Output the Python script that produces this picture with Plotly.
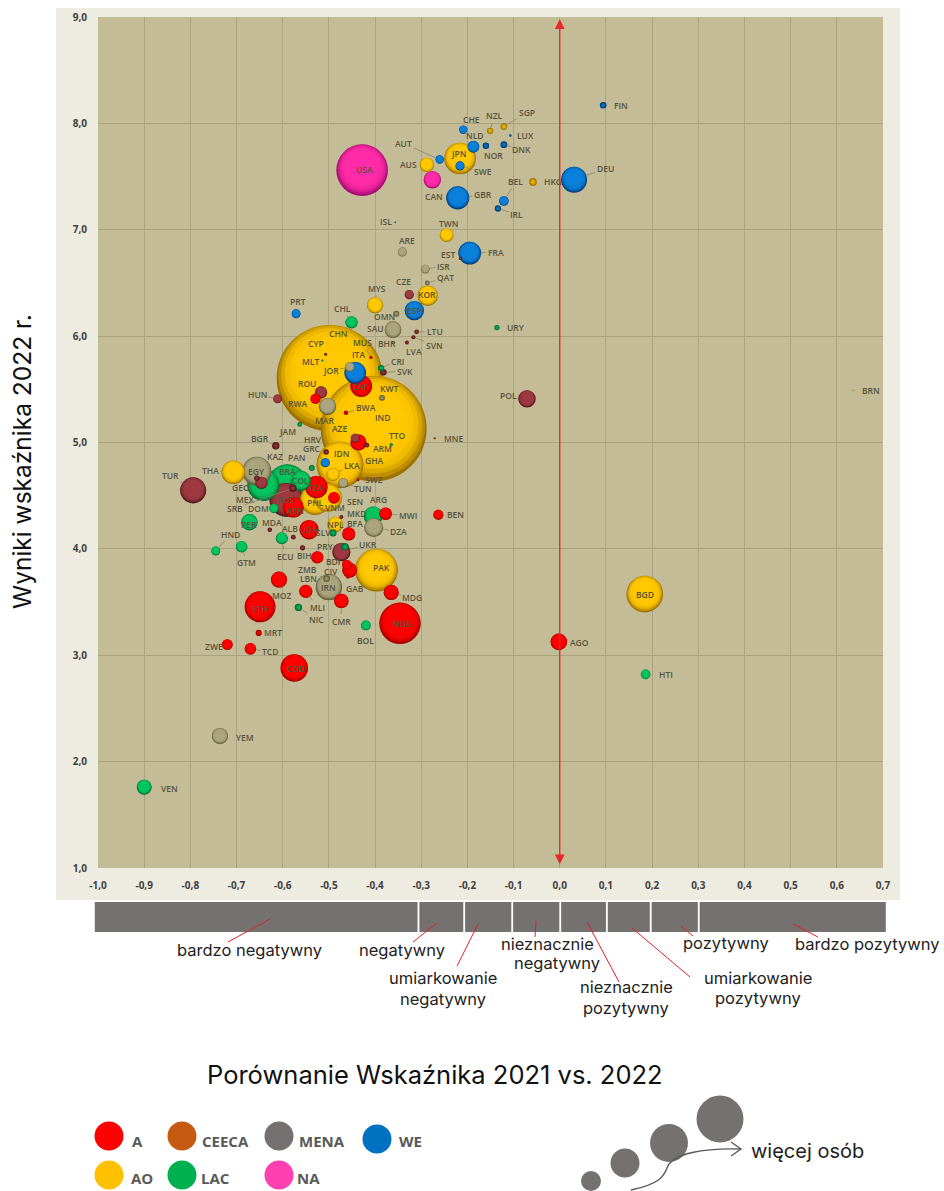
import plotly.graph_objects as go

WE_CODES = ["FIN","CHE","NLD","NOR","DNK","LUX","AUT","SWE","GBR","BEL","IRL","DEU","ISL","FRA","ESP","PRT","ITA","MLT","GRC"]
WE_X = [.094,-.209,-.187,-.16,-.121,-.107,-.26,-.216,-.221,-.121,-.134,.031,-.356,-.195,-.315,-.571,-.443,-.514,-.508]
WE_Y = [8.17,7.94,7.78,7.79,7.80,7.885,7.66,7.60,7.30,7.27,7.20,7.47,7.07,6.78,6.24,6.21,5.655,5.77,4.81]
WE_POP = [5.5,8.7,17.5,5.4,5.9,.8,9,10.4,67,11.6,5,84,.4,65,47,10,59,.5,10.5]

AO_CODES = ["JPN","NZL","SGP","AUS","HKG","TWN","KOR","MYS","CHN","IND","IDN","LKA","THA","PHL","VNM","NPL","PAK","BGD","BRN"]
AO_X = [-.216,-.151,-.121,-.288,-.058,-.245,-.286,-.40,-.498,-.403,-.476,-.491,-.707,-.53,-.502,-.486,-.397,.184,.636]
AO_Y = [7.67,7.93,7.97,7.61,7.45,6.95,6.38,6.29,5.605,5.13,4.79,4.70,4.72,4.46,4.48,4.23,3.80,3.575,5.49]
AO_POP = [125,5,5.6,26,7.5,24,52,33,1412,1400,275,22,70,113,98,30,230,168,.45]

A_CODES = ["ZAF","RWA","BWA","MUS","GHA","TZA","KEN","SWZ","SEN","MWI","BEN","UGA","BFA","ZMB","BDI","CIV","GAB","MOZ","MDG","MLI","CMR","ETH","NGA","MRT","ZWE","TCD","COD","AGO"]
A_X = [-.43,-.529,-.463,-.409,-.436,-.527,-.577,-.437,-.489,-.377,-.263,-.543,-.457,-.525,-.461,-.455,-.459,-.608,-.365,-.55,-.473,-.649,-.346,-.652,-.72,-.67,-.575,-.002]
A_Y = [5.53,5.41,5.28,5.80,5.0,4.58,4.39,4.65,4.48,4.33,4.32,4.18,4.14,3.92,3.85,3.80,3.74,3.71,3.59,3.60,3.51,3.455,3.30,3.21,3.10,3.06,2.88,3.125]
A_POP = [60,13,2.6,1.3,33,63,54,1.2,17,20,13,47,22,19,12,28,2.3,33,29,22,27,120,215,4.7,15,17,95,35]

LAC_CODES = ["CHL","URY","CRI","JAM","TTO","PAN","MEX","BRA","COL","DOM","ARG","SLV","PER","ECU","HND","GTM","PRY","NIC","BOL","HTI","VEN"]
LAC_X = [-.451,-.136,-.387,-.563,-.365,-.537,-.642,-.59,-.561,-.619,-.404,-.491,-.672,-.602,-.745,-.689,-.465,-.566,-.42,.186,-.90]
LAC_Y = [6.13,6.08,5.70,5.17,4.98,4.76,4.60,4.60,4.64,4.38,4.31,4.15,4.25,4.10,3.98,4.02,4.02,3.45,3.28,2.82,1.76]
LAC_POP = [19,3.4,5,2.8,1.4,4.4,128,214,51,11,45,6.3,34,18,10,17,6.7,6.9,12,11.5,28]

MENA_CODES = ["ARE","ISR","QAT","OMN","SAU","BHR","JOR","KWT","MAR","EGY","TUN","DZA","LBN","IRN","YEM"]
MENA_X = [-.341,-.291,-.287,-.354,-.361,-.36,-.455,-.385,-.503,-.656,-.469,-.403,-.505,-.5,-.736]
MENA_Y = [6.79,6.63,6.50,6.21,6.06,5.94,5.71,5.42,5.34,4.73,4.62,4.20,3.72,3.64,2.24]
MENA_POP = [10,9.5,2.9,4.5,35,1.5,11,4.3,37,105,12,45,5.5,87,33]

CEECA_CODES = ["EST","CZE","LTU","SVN","LVA","CYP","SVK","ROU","HUN","POL","MNE","AZE","ARM","BGR","HRV","KAZ","GEO","TUR","RUS","SRB","MKD","MDA","ALB","BIH","UKR"]
CEECA_X = [-.215,-.326,-.31,-.317,-.331,-.507,-.382,-.517,-.611,-.071,-.271,-.443,-.418,-.615,-.506,-.646,-.656,-.794,-.592,-.578,-.473,-.628,-.577,-.557,-.473]
CEECA_Y = [6.73,6.39,6.04,5.99,5.94,5.83,5.66,5.47,5.41,5.41,5.04,5.04,4.975,4.97,4.91,4.62,4.665,4.55,4.46,4.57,4.30,4.18,4.11,4.01,3.97]
CEECA_POP = [1.3,10.5,2.8,2.1,1.9,1.2,5.4,19,9.7,38,.6,10,3,6.8,3.9,19,3.7,85,144,6.9,2,2.6,2.8,3.3,42]

NA_CODES = ["USA","CAN"]
NA_X = [-.428,-.276]
NA_Y = [7.56,7.47]
NA_POP = [333,38]

X_TICKS = [-1,-.9,-.8,-.7,-.6,-.5,-.4,-.3,-.2,-.1,0,.1,.2,.3,.4,.5,.6,.7]
X_LABELS = ["-1,0","-0,9","-0,8","-0,7","-0,6","-0,5","-0,4","-0,3","-0,2","-0,1","0,0","0,1","0,2","0,3","0,4","0,5","0,6","0,7"]
Y_TICKS = [1,2,3,4,5,6,7,8,9]
Y_LABELS = ["1,0","2,0","3,0","4,0","5,0","6,0","7,0","8,0","9,0"]
STRIP_BOUNDS = [-1.009,-.306,-.207,-.103,.001,.102,.197,.301,.708]

# label offset from bubble centre, px (dx, dy downward)
OFF = {"FIN":(18,0),"CHE":(8,-10),"NZL":(4,-15),"SGP":(23,-14),"LUX":(15,0),"NLD":(2,-11),"NOR":(8,10),"DNK":(18,5),"AUT":(-36,-16),
"JPN":(-2,-5),"SWE":(23,6),"AUS":(-18,0),"USA":(2,-1),"CAN":(2,17),"GBR":(25,-3),"BEL":(12,-20),"IRL":(19,6),"HKG":(20,0),"DEU":(31,-11),
"ISL":(-9,-1),"TWN":(2,-12),"ARE":(5,-12),"EST":(-12,-4),"FRA":(26,-1),"ISR":(18,-3),"QAT":(18,-5),"CZE":(-6,-13),"KOR":(-1,-1),"MYS":(2,-17),
"ESP":(0,0),"PRT":(2,-12),"CHL":(-9,-14),"OMN":(-12,3),"SAU":(-18,-1),"LTU":(18,0),"SVN":(21,8),"LVA":(7,9),"URY":(19,0),"BHR":(-7,1),"MUS":(-8,-15),
"CYP":(-10,-11),"MLT":(-12,1),"CHN":(8,-45),"ITA":(3,-18),"JOR":(-19,4),"CRI":(16,-7),"SVK":(22,-1),"ZAF":(0,0),"KWT":(7,-9),"ROU":(-14,-9),
"RWA":(-18,5),"HUN":(-20,-4),"MAR":(-3,14),"BWA":(20,-5),"IND":(9,-11),"AZE":(-15,-10),"JAM":(-12,7),"MNE":(19,0),"TTO":(6,-9),"ARM":(16,3),
"GHA":(16,18),"BGR":(-16,-7),"HRV":(-13,-13),"GRC":(-13,-14),"IDN":(2,-11),"LKA":(19,-9),"KAZ":(14,-26),"PAN":(-15,-11),"THA":(-23,-2),"EGY":(0,0),
"TUR":(-23,-15),"GEO":(-16,9),"BRA":(0,-14),"COL":(0,0),"TZA":(0,0),"RUS":(0,0),"KEN":(2,3),"MEX":(-18,14),"SRB":(-58,20),"DOM":(-15,0),
"PHL":(0,3),"VNM":(7,10),"SEN":(21,4),"TUN":(20,6),"SWZ":(16,0),"ARG":(5,-16),"MWI":(22,2),"BEN":(17,0),"DZA":(25,4),"MKD":(16,-3),
"BFA":(6,-10),"NPL":(0,0),"SLV":(-10,0),"UGA":(0,0),"ALB":(-3,-9),"MDA":(2,-7),"PER":(0,2),"ECU":(3,18),"HND":(15,-17),"GTM":(5,16),
"BIH":(2,8),"PRY":(-20,0),"UKR":(27,-8),"BDI":(-14,-3),"ZMB":(-10,12),"CIV":(-19,1),"LBN":(-18,0),"IRN":(0,0),"GAB":(7,12),"PAK":(5,-3),
"MDG":(21,5),"MOZ":(3,16),"MLI":(12,16),"NIC":(18,12),"ETH":(0,2),"CMR":(0,20),"NGA":(3,0),"BOL":(0,15),"MRT":(14,0),"ZWE":(-13,2),
"TCD":(20,3),"COD":(2,0),"AGO":(21,1),"BGD":(0,0),"HTI":(20,0),"YEM":(25,1),"VEN":(25,1),"BRN":(18,0),"POL":(-18,-3)}
LEADERS = {"NZL","SGP","DNK","AUT","SWE","GBR","BEL","IRL","DEU","ARE","FRA","ISR","QAT","MYS","CHL","LTU","SVN","LVA","MUS","JOR","CRI","SVK",
"HUN","BWA","BGR","GRC","LKA","THA","TUR","MEX","SRB","TUN","MWI","DZA","ECU","HND","GTM","UKR","MDG","MOZ","MLI","NIC","CMR","TCD"}

REGIONS = {
 "A":(A_CODES,A_X,A_Y,A_POP,"#A00000","#FF0000"),
 "AO":(AO_CODES,AO_X,AO_Y,AO_POP,"#9A6E00","#FFC800"),
 "LAC":(LAC_CODES,LAC_X,LAC_Y,LAC_POP,"#00642F","#00C45E"),
 "MENA":(MENA_CODES,MENA_X,MENA_Y,MENA_POP,"#595433","#ABA57E"),
 "CEECA":(CEECA_CODES,CEECA_X,CEECA_Y,CEECA_POP,"#4A1317","#9E3A40"),
 "WE":(WE_CODES,WE_X,WE_Y,WE_POP,"#00386E","#0A80DA"),
 "NA":(NA_CODES,NA_X,NA_Y,NA_POP,"#A00A6E","#FF2CA8"),
}
# soft falloff of the sphere: (area share, opacity, lift towards the top)
BODY_STEPS = [(0.94,0.30,0.04),(0.84,0.40,0.07),(0.72,0.55,0.09),(0.58,0.70,0.11),(0.42,0.85,0.13)]

W, H = 944, 1191
PX_PER_Y = 851 / 8
SIZEREF = 1 / 4
def px(v): return v / W
def py(v): return 1 - v / H
def xdata_to_paper(v): return px(98 + (v + 1) / 1.7 * 785)

rows = []
for reg, (codes, xs, ys, pops, edge, core) in REGIONS.items():
    for c, x, y, p in zip(codes, xs, ys, pops):
        rows.append((p, c, x, y, edge, core))
rows.sort(key=lambda r: -r[0])

fig = go.Figure()
annots, shapes = [], []

shapes.append(dict(type="rect", xref="paper", yref="paper", x0=px(56), x1=px(900), y0=py(900), y1=py(8),
                   fillcolor="#EEEBE0", line_width=0, layer="below"))
shapes.append(dict(type="rect", xref="paper", yref="paper", x0=px(98), x1=px(883), y0=py(868), y1=py(17),
                   fillcolor="#C4BC96", line_width=0, layer="below"))

def disc(x, y, p, color, opacity=1, center=None):
    m = dict(size=[p], sizemode="area", sizeref=SIZEREF, color=color, line_width=0, opacity=opacity)
    if center:
        m["gradient"] = dict(type="radial", color=center)
    fig.add_trace(go.Scatter(x=[x], y=[y], mode="markers", hoverinfo="skip", showlegend=False, marker=m))

for p, c, x, y, edge, core in rows:
    r = (2*p)**.5
    disc(x, y, p, edge, 1, core)
    if r >= 4:
        for share, op, lift in BODY_STEPS:
            disc(x, y + lift*r/PX_PER_Y, p*share, core, op)
    dx, dy = OFF.get(c, (12, 0))
    lead = c in LEADERS
    annots.append(dict(x=x, y=y, xref="x", yref="y", text=c, ax=dx, ay=dy, axref="pixel", ayref="pixel",
        showarrow=True, arrowhead=0, arrowwidth=0.8, standoff=r if lead else 0,
        arrowcolor="#8A856A" if lead else "rgba(0,0,0,0)",
        font=dict(family="Open Sans", size=8.5, color="#57533C", weight=600)))

annots.append(dict(x=0, y=8.98, ax=0, ay=1.02, xref="x", yref="y", axref="x", ayref="y", text="", showarrow=True,
    arrowhead=2, arrowside="end+start", arrowsize=1.5, arrowwidth=1.3, arrowcolor="#E8262A"))

for a, b in zip(STRIP_BOUNDS[:-1], STRIP_BOUNDS[1:]):
    shapes.append(dict(type="rect", xref="paper", yref="paper", x0=xdata_to_paper(a+0.002), x1=xdata_to_paper(b-0.002),
                       y0=py(932), y1=py(902), fillcolor="#767171", line_width=0))

RED_LEADERS = [(270,919,228,942),(437,923,413,942),(478,924,457,966),(536,921,535,937),
               (587,922,619,982),(632,928,690,977),(681,926,693,936),(793,924,818,937)]
for a, b, c, d in RED_LEADERS:
    shapes.append(dict(type="line", xref="paper", yref="paper", x0=px(a), y0=py(b), x1=px(c), y1=py(d),
                       line=dict(color="#E02020", width=1)))

def ptext(t, a, b, fam, size, col, weight=None, angle=0):
    annots.append(dict(text=t, x=px(a), y=py(b), xref="paper", yref="paper", showarrow=False, xanchor="center", yanchor="middle",
                       textangle=angle, font=dict(family=fam, size=size, color=col, weight=weight or 400)))

TEXTS = [("bardzo negatywny",249,950),("negatywny",402,950),("umiarkowanie",443,978),("negatywny",443,999),
         ("nieznacznie",547,944),("negatywny",557,963),("nieznacznie",626,987),("pozytywny",626,1008),
         ("pozytywny",726,943),("bardzo pozytywny",867,944),("umiarkowanie",758,978),("pozytywny",758,998)]
for t, a, b in TEXTS:
    ptext(t, a, b, "Inter", 16.5, "#222222")

ptext("Porównanie Wskaźnika 2021 vs. 2022", 435, 1074, "Inter", 25.5, "#111111")
ptext("Wyniki wskaźnika 2022 r.", 22, 462, "Inter", 24.5, "#111111", angle=-90)

LEGEND = [("A","#FF0000",109,1136,137,1141),("CEECA","#C55A11",182,1136,225,1141),("MENA","#767171",279,1136,322,1141),
          ("WE","#0070C0",377,1139,410,1141),("AO","#FFC000",109,1175,142,1178),("LAC","#00B050",182,1175,215,1178),
          ("NA","#FF40B0",279,1175,308,1178)]
for name, col, cx, cy, tx, ty in LEGEND:
    shapes.append(dict(type="circle", xref="paper", yref="paper", x0=px(cx-14.5), x1=px(cx+14.5), y0=py(cy+14.5), y1=py(cy-14.5),
                       fillcolor=col, line_width=0))
    ptext(name, tx, ty, "Open Sans", 15, "#595959", weight=700)

for cx, cy, r in [(591,1181,10),(625,1163,14.5),(669,1143,19),(720,1119,23.5)]:
    shapes.append(dict(type="circle", xref="paper", yref="paper", x0=px(cx-r), x1=px(cx+r), y0=py(cy+r), y1=py(cy-r),
                       fillcolor="#767171", line_width=0))
shapes.append(dict(type="path", xref="paper", yref="paper",
    path=f"M {px(631)} {py(1190)} C {px(660)} {py(1184)}, {px(664)} {py(1176)}, {px(667)} {py(1168)} "
         f"C {px(672)} {py(1153)}, {px(705)} {py(1148)}, {px(741)} {py(1149)}",
    line=dict(color="#5A5A5A", width=1.4)))
shapes.append(dict(type="path", xref="paper", yref="paper",
    path=f"M {px(731)} {py(1142)} L {px(741)} {py(1149)} L {px(731)} {py(1156)}",
    line=dict(color="#5A5A5A", width=1.4)))
ptext("więcej osób", 807, 1151, "Inter", 20, "#222222")

GRID = "#A9A37F"
TICK_FONT = dict(family="Open Sans", size=10, color="#3F3F3F", weight=700)
fig.update_layout(
    width=W, height=H, margin=dict(l=0, r=0, t=0, b=0, autoexpand=False), autosize=False,
    paper_bgcolor="white", plot_bgcolor="rgba(0,0,0,0)", showlegend=False,
    shapes=shapes, annotations=annots,
    xaxis=dict(domain=[px(98), px(883)], range=[-1, .7], tickvals=X_TICKS, ticktext=X_LABELS, showgrid=True, gridcolor=GRID,
               gridwidth=1, zeroline=False, showline=False, ticks="", ticklabelstandoff=10, automargin=False, tickfont=TICK_FONT),
    yaxis=dict(domain=[py(868), py(17)], range=[1, 9], tickvals=Y_TICKS, ticktext=Y_LABELS, showgrid=True, gridcolor=GRID,
               gridwidth=1, zeroline=False, showline=False, ticks="", ticklabelstandoff=10, automargin=False, tickfont=TICK_FONT),
)
fig.write_html("out.html", config={"displayModeBar": False},
               post_script="document.body.style.margin='0';document.body.style.overflow='hidden';")
